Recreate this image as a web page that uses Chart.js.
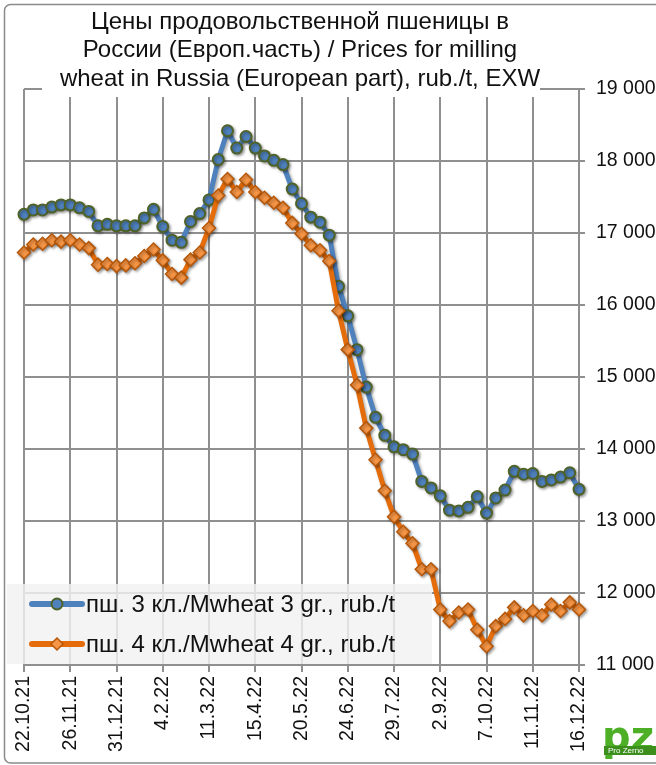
<!DOCTYPE html>
<html>
<head>
<meta charset="utf-8">
<script src="https://cdn.jsdelivr.net/npm/chart.js@4/dist/chart.umd.min.js"></script>
<style>
  body { margin: 0; background: #fff; }
  canvas { display: block; }
</style>
</head>
<body>
<canvas id="wheatChart" width="656" height="765"></canvas>
<script>
// weekly dates, 22.10.21 .. 16.12.22
const dates = [
  '22.10.21', '29.10.21', '5.11.21', '12.11.21', '19.11.21', '26.11.21', '3.12.21', '10.12.21', '17.12.21', '24.12.21',
  '31.12.21', '7.1.22', '14.1.22', '21.1.22', '28.1.22', '4.2.22', '11.2.22', '18.2.22', '25.2.22', '4.3.22',
  '11.3.22', '18.3.22', '25.3.22', '1.4.22', '8.4.22', '15.4.22', '22.4.22', '29.4.22', '6.5.22', '13.5.22',
  '20.5.22', '27.5.22', '3.6.22', '10.6.22', '17.6.22', '24.6.22', '1.7.22', '8.7.22', '15.7.22', '22.7.22',
  '29.7.22', '5.8.22', '12.8.22', '19.8.22', '26.8.22', '2.9.22', '9.9.22', '16.9.22', '23.9.22', '30.9.22',
  '7.10.22', '14.10.22', '21.10.22', '28.10.22', '4.11.22', '11.11.22', '18.11.22', '25.11.22', '2.12.22', '9.12.22',
  '16.12.22'
];

const wheat3 = [
  17260, 17320, 17320, 17360, 17390, 17390, 17350, 17300, 17100, 17120,
  17100, 17100, 17100, 17210, 17330, 17090, 16900, 16870, 17160, 17270,
  17460, 18020, 18420, 18180, 18340, 18180, 18070, 18010, 17950, 17610,
  17410, 17220, 17150, 16970, 16260, 15850, 15380, 14860, 14440, 14190,
  14030, 13990, 13930, 13550, 13460, 13350, 13150, 13140, 13190, 13340,
  13110, 13320, 13430, 13690, 13650, 13660, 13550, 13570, 13610, 13670,
  13440
];

const wheat4 = [
  16730, 16840, 16850, 16900, 16880, 16900, 16840, 16790, 16560, 16570,
  16540, 16550, 16580, 16680, 16770, 16620, 16430, 16380, 16630, 16730,
  17070, 17520, 17750, 17570, 17740, 17570, 17490, 17420, 17350, 17140,
  16990, 16830, 16760, 16610, 15920, 15380, 14890, 14290, 13850, 13420,
  13060, 12850, 12690, 12330, 12330, 11770, 11610, 11730, 11770, 11490,
  11260, 11540, 11640, 11800, 11690, 11750, 11690, 11840, 11750, 11870,
  11770
];

const seriesNames = ['пш. 3 кл./Mwheat 3 gr., rub./t', 'пш. 4 кл./Mwheat 4 gr., rub./t'];
const titleLines = [
  'Цены продовольственной пшеницы в',
  'России (Европ.часть) / Prices for milling',
  'wheat in Russia (European part), rub./t, EXW'
];

const FONT = '"Liberation Sans", Arial, sans-serif';
const GRID = '#8f8f8f';

const blue = { line: '#4f81bd', fill: '#4f81bd', edge: '#4f6228' };
const orange = { line: '#e46c0a', fill: '#f79646', edge: '#b65708' };

// soft shadow under the series, like the office chart
const shadowPlugin = {
  id: 'shadow',
  beforeDatasetDraw(chart) {
    const ctx = chart.ctx;
    ctx.save();
    ctx.shadowColor = 'rgba(0,0,0,0.35)';
    ctx.shadowBlur = 3;
    ctx.shadowOffsetX = 1.5;
    ctx.shadowOffsetY = 1.5;
  },
  afterDatasetDraw(chart) {
    chart.ctx.restore();
  }
};

// title box, legend box, frame and logo
const decorPlugin = {
  id: 'decor',
  beforeDatasetsDraw(chart) {
    const ctx = chart.ctx;
    ctx.save();
    // title sits over the top gridline
    ctx.fillStyle = '#fff';
    ctx.fillRect(42, 5, 498, 92);
    ctx.fillStyle = '#111';
    ctx.font = '24px ' + FONT;
    ctx.textAlign = 'center';
    ctx.textBaseline = 'middle';
    titleLines.forEach((t, i) => ctx.fillText(t, 300, 22 + i * 28.5));

    // legend
    ctx.fillStyle = 'rgba(242,242,242,0.82)';
    ctx.fillRect(7, 584, 425, 80);
    const items = [
      { name: seriesNames[0], c: blue, shape: 'circle', y: 604 },
      { name: seriesNames[1], c: orange, shape: 'diamond', y: 644 }
    ];
    items.forEach(it => {
      ctx.strokeStyle = it.c.line;
      ctx.lineWidth = 6;
      ctx.lineCap = 'round';
      ctx.beginPath();
      ctx.moveTo(32, it.y);
      ctx.lineTo(82, it.y);
      ctx.stroke();
      ctx.fillStyle = it.c.fill;
      ctx.strokeStyle = it.c.edge;
      ctx.lineWidth = it.shape === 'circle' ? 2 : 1.5;
      ctx.beginPath();
      if (it.shape === 'circle') {
        ctx.arc(57, it.y, 5.5, 0, Math.PI * 2);
      } else {
        ctx.moveTo(57, it.y - 6);
        ctx.lineTo(63, it.y);
        ctx.lineTo(57, it.y + 6);
        ctx.lineTo(51, it.y);
        ctx.closePath();
      }
      ctx.fill();
      ctx.stroke();
      ctx.fillStyle = '#111';
      ctx.font = '24px ' + FONT;
      ctx.textAlign = 'left';
      ctx.textBaseline = 'middle';
      ctx.fillText(it.name, 86, it.y + 1);
    });
    ctx.restore();
  },
  afterDraw(chart) {
    const ctx = chart.ctx;
    ctx.save();
    // outer frame
    ctx.strokeStyle = '#8a8a8a';
    ctx.lineWidth = 1.5;
    ctx.beginPath();
    ctx.roundRect(4.5, 4.5, 700, 758.5, 6);
    ctx.stroke();

    // small logo bottom right
    ctx.fillStyle = '#4caf26';
    ctx.font = 'bold 40px "DejaVu Sans", sans-serif';
    ctx.textAlign = 'left';
    ctx.textBaseline = 'alphabetic';
    ctx.fillText('pz', 602, 750);
    ctx.fillStyle = '#3c8f1c';
    ctx.fillRect(604, 746, 52, 9);
    ctx.fillStyle = '#fff';
    ctx.font = '8px ' + FONT;
    ctx.fillText('Pro Zerno', 608, 753);
    ctx.restore();
  }
};

const fmt = v => String(v).replace(/\B(?=(\d{3})+(?!\d))/g, ' ');

new Chart(document.getElementById('wheatChart'), {
  type: 'line',
  data: {
    labels: dates,
    datasets: [
      {
        label: seriesNames[0],
        data: wheat3,
        borderColor: blue.line,
        borderWidth: 5,
        pointStyle: 'circle',
        pointRadius: 5.5,
        pointBackgroundColor: blue.fill,
        pointBorderColor: blue.edge,
        pointBorderWidth: 2,
        tension: 0,
        clip: false,
        order: 2
      },
      {
        label: seriesNames[1],
        data: wheat4,
        borderColor: orange.line,
        borderWidth: 5,
        pointStyle: 'rectRot',
        pointRadius: 6.5,
        pointBackgroundColor: orange.fill,
        pointBorderColor: orange.edge,
        pointBorderWidth: 1.5,
        tension: 0,
        clip: false,
        order: 1
      }
    ]
  },
  options: {
    responsive: false,
    animation: false,
    layout: { padding: { left: 24, top: 89, right: 0, bottom: 0 } },
    plugins: {
      legend: { display: false },
      title: { display: false },
      tooltip: { enabled: false }
    },
    scales: {
      x: {
        afterFit(scale) { scale.height = 100; },
        border: { color: GRID, width: 2 },
        grid: {
          color: c => (c.index % 5 === 0 ? GRID : 'rgba(0,0,0,0)'),
          lineWidth: 2,
          tickLength: 7
        },
        ticks: {
          autoSkip: false,
          minRotation: 90,
          maxRotation: 90,
          padding: 4,
          color: '#111',
          font: { family: FONT, size: 19.5 },
          callback: (v, i) => (i % 5 === 0 ? dates[i] : '')
        }
      },
      y: {
        position: 'right',
        min: 11000,
        max: 19000,
        afterFit(scale) { scale.width = 77; },
        border: { color: GRID, width: 2 },
        grid: { color: GRID, lineWidth: 2, tickLength: 6 },
        ticks: {
          stepSize: 1000,
          padding: 11,
          color: '#111',
          font: { family: FONT, size: 19.5 },
          callback: v => fmt(v)
        }
      }
    }
  },
  plugins: [shadowPlugin, decorPlugin]
});
</script>
</body>
</html>
